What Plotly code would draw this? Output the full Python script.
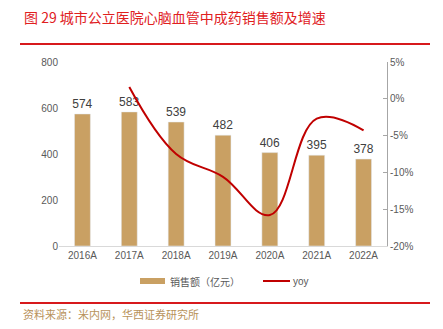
import plotly.graph_objects as go

categories = ["2016A", "2017A", "2018A", "2019A", "2020A", "2021A", "2022A"]
sales = [574, 583, 539, 482, 406, 395, 378]
yoy_cats = ["2017A", "2018A", "2019A", "2020A", "2021A", "2022A"]
yoy = [1.6, -7.5, -10.6, -15.8, -2.7, -4.3]
y2_ticks = [5, 0, -5, -10, -15, -20]
series_names = ["销售额（亿元）", "yoy"]

W, H = 443, 329
ML, MR, MT, MB = 59, 56, 62, 83

def px(x):
    return (x - ML) / (W - ML - MR)

def py(y):
    return 1 - (y - MT) / (H - MT - MB)

BAR = "#C9A063"
LINE = "#C00000"
TXT = "#595959"

fig = go.Figure()
fig.add_trace(go.Bar(
    x=categories, y=sales, name=series_names[0],
    marker=dict(color=BAR), width=0.34,
    text=[str(v) for v in sales], textposition="outside", constraintext="none",
    textfont=dict(size=12, color="#404040", family="Liberation Sans"),
    cliponaxis=False, showlegend=False,
))
fig.add_trace(go.Scatter(
    x=yoy_cats, y=yoy, name=series_names[1], yaxis="y2", mode="lines",
    line=dict(color=LINE, width=2, shape="spline", smoothing=1.1),
    showlegend=False,
))

fig.update_layout(
    width=W, height=H,
    margin=dict(l=ML, r=MR, t=MT, b=MB),
    paper_bgcolor="white", plot_bgcolor="white",
    font=dict(family="Liberation Sans", size=10, color=TXT),
    xaxis=dict(showgrid=False, showline=True, linecolor="#D9D9D9", linewidth=1,
               ticks="", tickfont=dict(size=10, color=TXT)),
    yaxis=dict(range=[0, 800], dtick=200, showgrid=False, zeroline=False,
               showline=False, ticks="", tickfont=dict(size=10, color=TXT)),
    yaxis2=dict(range=[-20, 5], tickvals=y2_ticks,
                ticktext=[f"{v}%" for v in y2_ticks],
                overlaying="y", side="right", showgrid=False, zeroline=False,
                showline=True, linecolor="#A6A6A6", linewidth=1,
                ticks="inside", ticklen=4, tickcolor="#A6A6A6",
                tickfont=dict(size=10, color=TXT)),
    showlegend=False,
)

# custom legend
fig.add_shape(type="rect", xref="paper", yref="paper", x0=px(140), x1=px(165), y0=py(284), y1=py(278),
              fillcolor=BAR, line=dict(width=0))
fig.add_annotation(xref="paper", yref="paper", x=px(168), y=py(281), xanchor="left", yanchor="middle",
                   text=series_names[0], showarrow=False,
                   font=dict(family="Noto Sans CJK SC", size=10, color=TXT))
fig.add_shape(type="line", xref="paper", yref="paper", x0=px(263), x1=px(290), y0=py(281), y1=py(281),
              line=dict(color=LINE, width=2))
fig.add_annotation(xref="paper", yref="paper", x=px(291), y=py(281), xanchor="left", yanchor="middle",
                   text=series_names[1], showarrow=False,
                   font=dict(family="Liberation Sans", size=10, color=TXT))

fig.add_annotation(xref="paper", yref="paper", x=px(22), y=py(17), xanchor="left", yanchor="middle",
                   text="图 29 城市公立医院心脑血管中成药销售额及增速", showarrow=False,
                   font=dict(family="Noto Sans CJK SC", size=14, color="#E0201E"))
fig.add_annotation(xref="paper", yref="paper", x=px(21), y=py(314), xanchor="left", yanchor="middle",
                   text="资料来源：米内网，华西证券研究所", showarrow=False,
                   font=dict(family="Noto Sans CJK SC", size=11, color="#B8925A"))
fig.add_shape(type="line", xref="paper", yref="paper", x0=px(20), x1=px(430), y0=py(44), y1=py(44),
              line=dict(color="#D7191C", width=2))
fig.add_shape(type="line", xref="paper", yref="paper", x0=px(20), x1=px(430), y0=py(303), y1=py(303),
              line=dict(color="#D7191C", width=2))

fig.write_html("out.html")
